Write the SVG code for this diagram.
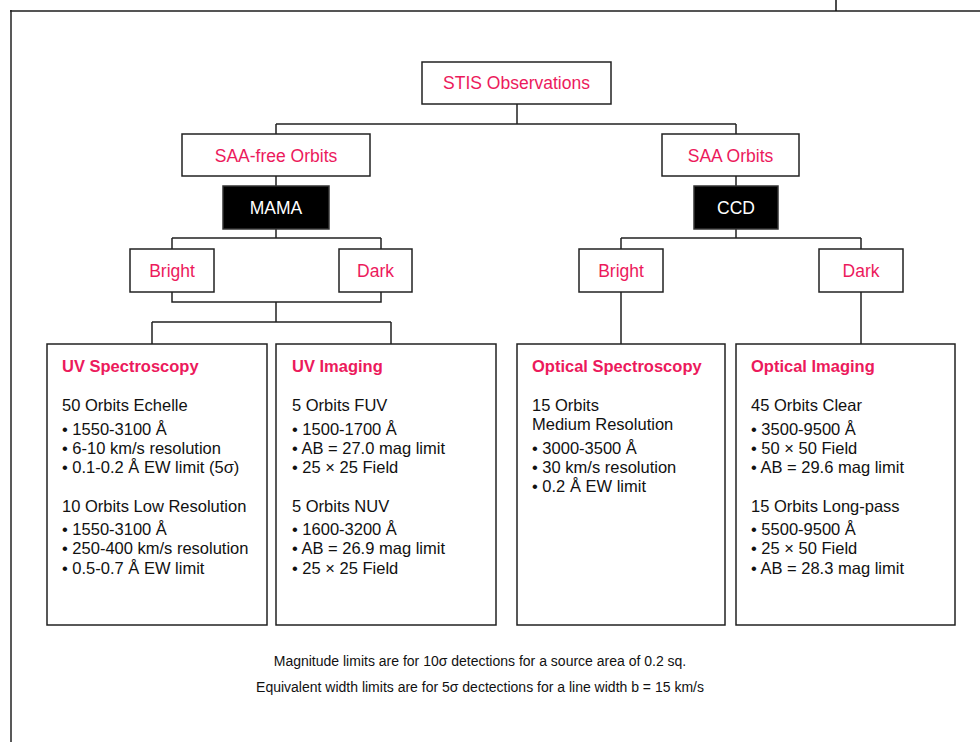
<svg xmlns="http://www.w3.org/2000/svg" width="980" height="742" viewBox="0 0 980 742">
<style>
.box{fill:#fff;stroke:#222;stroke-width:1.5}
.dark{fill:#000;stroke:#333;stroke-width:1.5}
.lbl{font-family:"Liberation Sans",Arial,sans-serif;font-size:17.5px;fill:#ec1a5c;text-anchor:middle}
.wl{font-family:"Liberation Sans",Arial,sans-serif;font-size:17.5px;fill:#fff;text-anchor:middle}
.hd{font-family:"Liberation Sans",Arial,sans-serif;font-size:16.5px;font-weight:bold;fill:#ec1a5c}
.tx{font-family:"Liberation Sans",Arial,sans-serif;font-size:16.5px;fill:#111}
.note{font-family:"Liberation Sans",Arial,sans-serif;font-size:14px;fill:#111;text-anchor:middle}
.ln{fill:none;stroke:#222;stroke-width:1.5}
</style>
<rect width="980" height="742" fill="#fff"/>
<g id="frame">
<line x1="10" y1="11" x2="980" y2="11" stroke="#555" stroke-width="2"/>
<line x1="11" y1="10" x2="11" y2="742" stroke="#222" stroke-width="1.5"/>
<line x1="836" y1="0" x2="836" y2="11" stroke="#111" stroke-width="1.5"/>
</g>
<g id="connectors" class="ln">
<path d="M517 104V124M276 124H736M276 124V134M736 124V134"/>
<path d="M276 176V186M276 229V238M172 238H381M172 238V249M381 238V249"/>
<path d="M172 292V302H381V292M276 302V322M152 322H391M152 322V344M391 322V344"/>
<path d="M736 176V186M736 229V238M621 238H861M621 238V249M861 238V249"/>
<path d="M621 292V344M861 292V344"/>
</g>
<g id="stis"><rect class="box" x="422" y="62" width="189" height="42"/><text class="lbl" x="516.5" y="89">STIS Observations</text></g>
<g id="saafree"><rect class="box" x="182" y="134" width="188" height="42"/><text class="lbl" x="276" y="162">SAA-free Orbits</text></g>
<g id="saa"><rect class="box" x="662" y="134" width="137" height="42"/><text class="lbl" x="730.5" y="162">SAA Orbits</text></g>
<g id="mama"><rect class="dark" x="223" y="186" width="106" height="43"/><text class="wl" x="276" y="214">MAMA</text></g>
<g id="ccd"><rect class="dark" x="694" y="186" width="84" height="43"/><text class="wl" x="736" y="214">CCD</text></g>
<g id="bright1"><rect class="box" x="130" y="249" width="84" height="43"/><text class="lbl" x="172" y="277">Bright</text></g>
<g id="dark1"><rect class="box" x="339" y="249" width="73" height="43"/><text class="lbl" x="375.5" y="277">Dark</text></g>
<g id="bright2"><rect class="box" x="579" y="249" width="84" height="43"/><text class="lbl" x="621" y="277">Bright</text></g>
<g id="dark2"><rect class="box" x="819" y="249" width="84" height="43"/><text class="lbl" x="861" y="277">Dark</text></g>
<g id="uvspec"><rect class="box" x="47" y="344" width="220" height="281"/>
<text class="hd" x="62" y="372">UV Spectroscopy</text>
<text class="tx" x="62" y="411">50 Orbits Echelle</text>
<text class="tx" x="62" y="435">• 1550-3100 Å</text>
<text class="tx" x="62" y="454">• 6-10 km/s resolution</text>
<text class="tx" x="62" y="473">• 0.1-0.2 Å EW limit (5σ)</text>
<text class="tx" x="62" y="512">10 Orbits Low Resolution</text>
<text class="tx" x="62" y="535">• 1550-3100 Å</text>
<text class="tx" x="62" y="554">• 250-400 km/s resolution</text>
<text class="tx" x="62" y="574">• 0.5-0.7 Å EW limit</text>
</g>
<g id="uvimg"><rect class="box" x="276" y="344" width="220" height="281"/>
<text class="hd" x="292" y="372">UV Imaging</text>
<text class="tx" x="292" y="411">5 Orbits FUV</text>
<text class="tx" x="292" y="435">• 1500-1700 Å</text>
<text class="tx" x="292" y="454">• AB = 27.0 mag limit</text>
<text class="tx" x="292" y="473">• 25 × 25 Field</text>
<text class="tx" x="292" y="512">5 Orbits NUV</text>
<text class="tx" x="292" y="535">• 1600-3200 Å</text>
<text class="tx" x="292" y="554">• AB = 26.9 mag limit</text>
<text class="tx" x="292" y="574">• 25 × 25 Field</text>
</g>
<g id="optspec"><rect class="box" x="517" y="344" width="208" height="281"/>
<text class="hd" x="532" y="372">Optical Spectroscopy</text>
<text class="tx" x="532" y="411">15 Orbits</text>
<text class="tx" x="532" y="430"> Medium Resolution</text>
<text class="tx" x="532" y="454">• 3000-3500 Å</text>
<text class="tx" x="532" y="473">• 30 km/s resolution</text>
<text class="tx" x="532" y="492">• 0.2 Å EW limit</text>
</g>
<g id="optimg"><rect class="box" x="736" y="344" width="219" height="281"/>
<text class="hd" x="751" y="372">Optical Imaging</text>
<text class="tx" x="751" y="411">45 Orbits Clear</text>
<text class="tx" x="751" y="435">• 3500-9500 Å</text>
<text class="tx" x="751" y="454">• 50 × 50 Field</text>
<text class="tx" x="751" y="473">• AB = 29.6 mag limit</text>
<text class="tx" x="751" y="512">15 Orbits Long-pass</text>
<text class="tx" x="751" y="535">• 5500-9500 Å</text>
<text class="tx" x="751" y="554">• 25 × 50 Field</text>
<text class="tx" x="751" y="574">• AB = 28.3 mag limit</text>
</g>
<g id="notes">
<text class="note" x="480" y="666">Magnitude limits are for 10σ detections for a source area of 0.2 sq.</text>
<text class="note" x="480" y="692">Equivalent width limits are for 5σ dectections for a line width b = 15 km/s</text>
</g>
</svg>
